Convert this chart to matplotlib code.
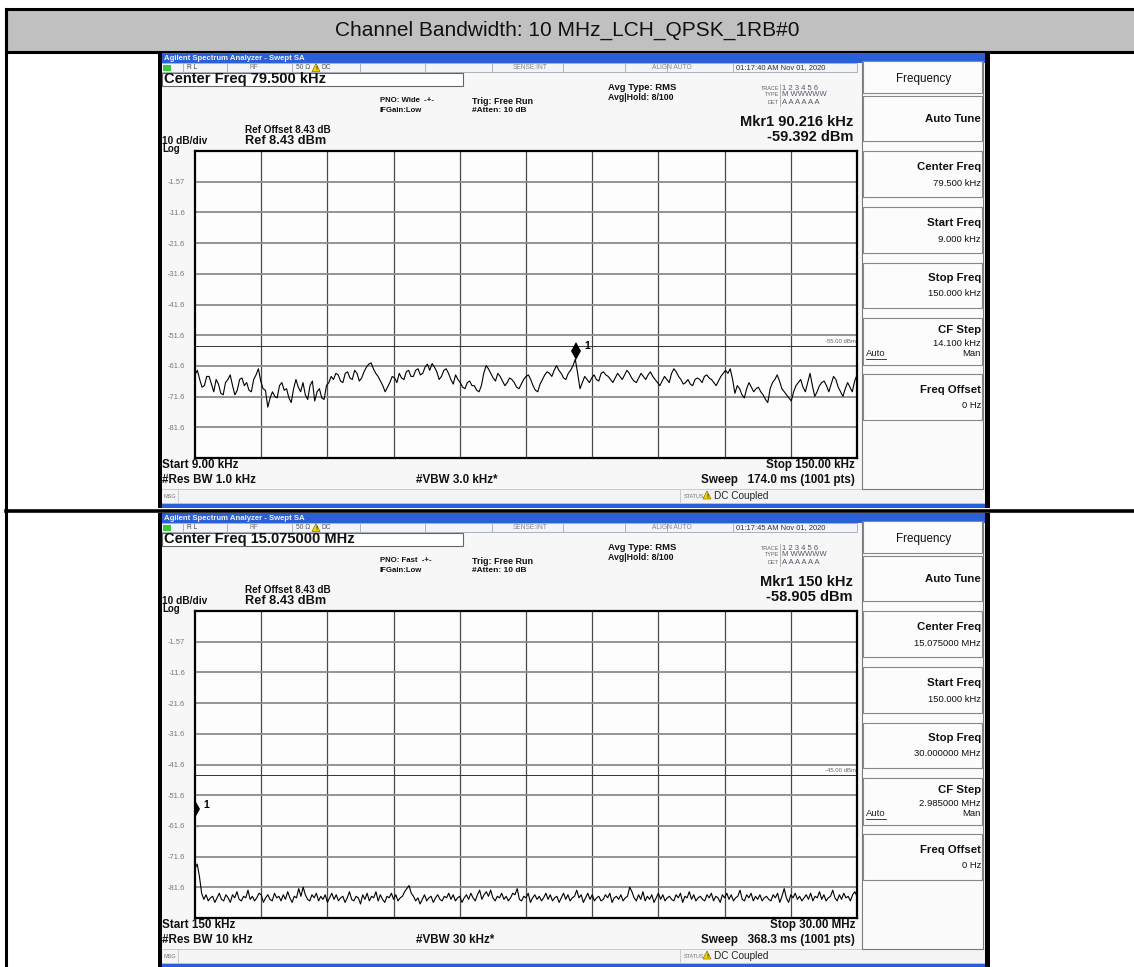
import numpy as np
import matplotlib.pyplot as plt
from matplotlib.patches import Rectangle, Polygon
from matplotlib.transforms import offset_copy

plt.rcParams['font.family'] = ['Liberation Sans', 'DejaVu Sans']

W, H = 1134, 967
header_text = 'Channel Bandwidth: 10 MHz_LCH_QPSK_1RB#0'
ref_level = 8.43

# ---- screen 1: 9 kHz - 150 kHz, 0.5 kHz per value (dBm) ----
low_start, low_stop = 9.0, 150.0
low_trace = [
    -64.5, -63, -66, -68.5, -68, -65, -65, -67.5, -70, -66, -67.5, -70.5, -71, -67, -66,
    -64.5, -68, -71, -69.5, -66, -65.5, -68, -67, -69.5, -70, -66, -64.5, -62.5, -66.5,
    -69, -69.5, -75, -72, -70, -71.5, -72, -68, -67, -69.5, -69, -72, -73.5, -69, -66,
    -68.5, -70, -67, -71, -72.5, -68, -66.5, -73, -70, -69, -72, -72.5, -68, -67, -65,
    -66, -64, -64.5, -66.5, -67, -64, -63.5, -65.5, -66, -63, -64, -66.5, -65.5, -63.5,
    -62, -61, -60.6, -62.5, -64, -65, -66.5, -68, -70, -68.5, -67, -65,
    -65.5, -67, -64, -65.5, -66, -63.5, -63, -65, -65, -63, -62.5, -64.5, -64, -62, -61,
    -63, -60.8, -62, -63.5, -66, -65, -63, -62.5, -64, -66, -67.5, -64.5, -66, -67, -68.5,
    -69, -67, -66.5, -68, -68, -69.5, -70, -68,
    -64, -61.5, -62.5, -64, -65.5, -66.5, -64, -65, -66.5, -68, -67, -65.5, -66, -67,
    -68.5, -69, -67.5, -66, -65, -64.5, -66, -68, -69.5, -70,
    -67.5, -66, -64.5, -63.5, -64, -65, -63, -61.5, -63, -64, -65.5, -66, -64, -63, -61.5,
    -59.4,
    -64, -69, -67, -65, -66, -67, -65.5, -64.5, -66, -66.5, -64, -63.5, -64.5, -65, -66,
    -67, -65.5, -64, -65, -66,
    -64.5, -63, -64, -65.5, -66.5, -67, -65.5, -64, -65, -66, -64.5, -63.5, -65, -66, -67,
    -68, -66.5, -65, -66, -67, -64, -62.5, -63.5, -65, -66, -67.5,
    -67, -66, -67.5, -68, -66, -65.5, -66, -67, -65, -64.5, -65.5, -66, -67, -68, -66.5,
    -65, -64, -63, -64, -62.5, -66, -70.5,
    -68, -69, -71, -72, -69, -67, -68.5, -70, -69, -68.5, -70, -71, -72.5, -73.5, -69, -67,
    -66, -64.5, -66.5, -69, -70, -71, -72, -73, -70, -68, -67, -66, -68.5, -70, -67, -64,
    -68, -71.5, -70, -68, -67, -66.5, -68, -70, -67.5, -65, -66, -68.5, -70, -71.5, -69,
    -67, -68.5, -70, -66.5, -64.5,
]
low_marker = [90.216, -59.392]
low_line = -55.0
low_top = ['Center Freq 79.500 kHz', 'PNO: Wide', '01:17:40 AM Nov 01, 2020',
           'Mkr1 90.216 kHz', '-59.392 dBm']
low_bottom = ['Start 9.00 kHz', '#Res BW 1.0 kHz', '#VBW 3.0 kHz*',
              'Stop 150.00 kHz', 'Sweep   174.0 ms (1001 pts)']
low_keys = ['79.500 kHz', '9.000 kHz', '150.000 kHz', '14.100 kHz']

# ---- screen 2: 150 kHz - 30 MHz (MHz axis, dBm values) ----
high_start, high_stop = 0.15, 30.0
high_trace = [
    -75.5, -74, -78, -83.5, -85.5, -84, -86, -85, -84.5, -86.5, -85, -83.5, -85.5, -86, -84, -85, -86.5, -84, -85, -83,
    -85.5, -86, -84.5, -85, -82.5, -85.5, -84.5, -86, -85, -83.5, -84, -86.5, -85, -84, -85.5, -86, -83.5, -85, -84.5, -86,
    -84, -85.5, -83, -85, -86.5, -84.5, -85, -82, -84.5, -81.5, -84, -85.5, -86, -84, -85, -83.5, -86, -84.5, -85.5, -84,
    -86.5, -85, -83.5, -85.5, -84, -86, -85, -84.5, -86.5, -85, -83, -85.5, -86, -84.5, -85, -87, -84, -85.5, -83.5, -86,
    -84.5, -85, -83, -86, -84, -85.5, -86.5, -84.5, -85, -83.5, -85.5, -84, -86, -85, -84.5, -83, -82, -81, -83.5, -84.5,
    -86, -85, -87, -85.5, -84, -86, -85, -84.5, -86.5, -85, -84, -85.5, -86, -84.5, -85, -83.5, -85.5, -84, -86, -85,
    -84.5, -86.5, -85, -84, -85.5, -83.5, -85, -86, -84, -82.5, -85.5, -84, -83, -84.5, -82.5, -85, -86, -84.5, -85, -83.5,
    -85.5, -84.5, -86, -85, -83.5, -84, -82, -85.5, -86, -84.5, -85, -83.5, -86.5, -85, -84, -85.5, -84.5, -86, -85, -83.5,
    -85.5, -84, -86, -85, -84.5, -86.5, -85, -83.5, -85.5, -84, -86, -85, -84.5, -82.5, -85, -84, -86.5, -85, -83.5, -85.5,
    -84, -86, -85, -84.5, -86, -85.5, -84, -85, -83.5, -86.5, -85, -84.5, -85.5, -84, -86, -85, -84.5, -81.5, -83, -85,
    -86, -84, -85.5, -83, -86, -84.5, -85.5, -84, -86.5, -85, -83.5, -85.5, -84, -86, -85, -84.5, -85.5, -86, -84, -85,
    -83.5, -86.5, -84.5, -85, -83, -85.5, -84, -86, -85, -84.5, -85.5, -86, -84, -85, -83.5, -86, -84.5, -85, -86.5, -84,
    -85, -83.5, -85.5, -84, -86, -85, -84.5, -82.5, -85.5, -86, -84, -85, -83.5, -86, -84.5, -85.5, -84, -86, -85, -84.5,
    -85.5, -86, -84, -85, -83.5, -86.5, -84.5, -82, -85, -86.5, -84, -85, -83.5, -85.5, -84.5, -86, -85, -84, -85.5, -83.5,
    -86, -84.5, -85, -83, -85.5, -84, -86, -85, -84.5, -82.5, -85, -86, -84, -85.5, -83.5, -85, -84.5, -86, -84, -83,
    -84.5,
]
high_marker = [0.15, -58.905]
high_line = -45.0
high_top = ['Center Freq 15.075000 MHz', 'PNO: Fast', '01:17:45 AM Nov 01, 2020',
            'Mkr1 150 kHz', '-58.905 dBm']
high_bottom = ['Start 150 kHz', '#Res BW 10 kHz', '#VBW 30 kHz*',
               'Stop 30.00 MHz', 'Sweep   368.3 ms (1001 pts)']
high_keys = ['15.075000 MHz', '150.000 kHz', '30.000000 MHz', '2.985000 MHz']

key_names = ['Center Freq', 'Start Freq', 'Stop Freq', 'CF Step']
key_title_y = [114, 170, 225, 277]
key_value_y = [131, 187, 240, 290]

BLUE = '#2a5fd8'

fig = plt.figure(figsize=(W / 100, H / 100), dpi=100)
bg = fig.add_axes([0, 0, 1, 1])
bg.set_xlim(0, W)
bg.set_ylim(H, 0)
bg.axis('off')


def rect(x0, y0, x1, y1, fc='none', ec='none', lw=0.8, z=1):
    bg.add_patch(Rectangle((x0, y0), x1 - x0, y1 - y0, fc=fc, ec=ec, lw=lw, zorder=z))


def txt(x, y, s, size, weight='normal', ha='left', color='#111111', z=5):
    bg.text(x, y, s, fontsize=size, fontweight=weight, ha=ha, va='center',
            color=color, zorder=z)


def warn(x, y):
    bg.add_patch(Polygon([[x, y + 4], [x + 8, y + 4], [x + 4, y - 4]], closed=True,
                         fc='#f2d600', ec='#8a7000', lw=0.5, zorder=6))
    txt(x + 4, y + 1, '!', 4.5, 'bold', ha='center', z=7)


# table frame + header
rect(6, 9, W + 5, 52, fc='#c0c0c0', ec='black', lw=2.2)
bg.plot([6, 6], [9, H], color='black', lw=2.2)
bg.plot([6, W], [510.5, 510.5], color='black', lw=2.6)
txt(W / 2, 30, header_text, 15, ha='center')


def screen(y0, start, stop, trace, marker, line, top, bottom, keys):
    # frame
    rect(158, y0, 990, y0 + 455, fc='#f7f7f7')
    rect(158, y0, 161.5, y0 + 455, fc='black', z=3)
    rect(985, y0, 990, y0 + 455, fc='black', z=3)
    rect(161, y0, 985, y0 + 10, fc=BLUE, z=2)
    rect(161, y0 + 450, 985, y0 + 455, fc=BLUE, z=2)
    txt(164, y0 + 5, 'Agilent Spectrum Analyzer - Swept SA', 5.6, 'bold', color='#f4f4e8')

    # status row
    rect(161, y0 + 10, 857, y0 + 19, fc='#f2f4f7', ec='#a0a8b4', lw=0.6, z=2)
    for xs in [183, 227, 292, 360, 425, 492, 563, 625, 667, 733]:
        bg.plot([xs, xs], [y0 + 11, y0 + 18], color='#a0a8b4', lw=0.6, zorder=3)
    rect(163, y0 + 11.5, 171, y0 + 17.5, fc='#3cc83c', z=3)
    txt(187, y0 + 14.5, 'R L', 4.8, color='#444')
    txt(250, y0 + 14.5, 'RF', 4.8, color='#777')
    txt(296, y0 + 14.5, '50 Ω', 4.8, color='#555')
    warn(312, y0 + 14.5)
    txt(322, y0 + 14.5, 'DC', 4.8, color='#555')
    txt(530, y0 + 14.5, 'SENSE:INT', 4.8, ha='center', color='#888')
    txt(672, y0 + 14.5, 'ALIGN AUTO', 4.8, ha='center', color='#888')
    txt(736, y0 + 14.5, top[2], 5.4, color='#333')

    # setup text block
    rect(162, y0 + 19.5, 463, y0 + 32.5, fc='white', ec='#666', lw=0.8, z=2)
    txt(164, y0 + 26.5, top[0], 10.5, 'bold')
    txt(380, y0 + 48, top[1] + '  -+-', 5.6, 'bold')
    txt(380, y0 + 57, 'IFGain:Low', 5.6, 'bold')
    txt(472, y0 + 49, 'Trig: Free Run', 6.5, 'bold')
    txt(472, y0 + 57, '#Atten: 10 dB', 6, 'bold')
    txt(608, y0 + 35, 'Avg Type: RMS', 6.8, 'bold')
    txt(608, y0 + 44, 'Avg|Hold: 8/100', 6.3, 'bold')
    for i, (lab, val) in enumerate([('TRACE', '1 2 3 4 5 6'), ('TYPE', 'M WWWWW'),
                                    ('DET', 'A A A A A A')]):
        txt(779, y0 + 35 + 7 * i, lab, 4, ha='right', color='#666')
        txt(782, y0 + 35 + 7 * i, val, 5.5, color='#556')
    bg.plot([780, 780], [y0 + 31, y0 + 53], color='#999', lw=0.5)
    txt(853, y0 + 69, top[3], 10.5, 'bold', ha='right')
    txt(853, y0 + 84, top[4], 10.5, 'bold', ha='right')
    txt(245, y0 + 77, 'Ref Offset 8.43 dB', 7.2, 'bold')
    txt(245, y0 + 87.5, 'Ref 8.43 dBm', 9.2, 'bold')
    txt(162, y0 + 87.5, '10 dB/div', 7.3, 'bold')
    txt(162, y0 + 96, 'Log', 7, 'bold')

    # graticule drawn on a real axes
    ax = fig.add_axes([195 / W, 1 - (y0 + 405) / H, 662 / W, 307 / H])
    ax.set_facecolor('#fdfdfd')
    ax.set_xlim(start, stop)
    ax.set_ylim(ref_level - 100, ref_level)
    ax.set_xticks(np.linspace(start, stop, 11)[1:-1])
    yt = [ref_level - 10 * k for k in range(1, 10)]
    ax.set_yticks(yt)
    ax.set_yticklabels(['%.2f' % v if abs(v) < 10 else '%.1f' % v for v in yt])
    ax.tick_params(axis='y', length=0, pad=7, labelsize=5.4, labelcolor='#777')
    ax.tick_params(axis='x', length=0, labelbottom=False)
    ax.grid(axis='y', color='#8c8c8c', lw=1.3)
    ax.grid(axis='x', color='#4a4a4a', lw=0.9)
    for sp in ax.spines.values():
        sp.set_color('black')
        sp.set_linewidth(1.6)
    ax.axhline(line, color='#333', lw=0.7)
    ax.text(0.998, line + 0.6, '%.2f dBm' % line, transform=ax.get_yaxis_transform(),
            fontsize=4.3, color='#666', ha='right', va='bottom')
    f = np.linspace(start, stop, len(trace))
    ax.plot(f, trace, color='black', lw=0.8)
    tr = offset_copy(ax.transData, fig=fig, x=0, y=6, units='points')
    ax.plot([marker[0]], [marker[1]], marker='d', ms=9, mew=0, color='black',
            transform=tr, clip_on=True)
    ax.text(marker[0], marker[1], '1', fontsize=7.5, fontweight='bold',
            transform=offset_copy(ax.transData, fig=fig, x=6, y=7, units='points'))

    # bottom annotations
    txt(162, y0 + 412, bottom[0], 8.4, 'bold')
    txt(162, y0 + 427, bottom[1], 8.4, 'bold')
    txt(416, y0 + 427, bottom[2], 8.4, 'bold')
    txt(855, y0 + 412, bottom[3], 8.4, 'bold', ha='right')
    txt(855, y0 + 427, bottom[4], 8.4, 'bold', ha='right')
    rect(161, y0 + 436, 985, y0 + 450, fc='#f4f4f4', ec='#c4c4c4', lw=0.6, z=2)
    txt(164, y0 + 443, 'MSG', 4, color='#777')
    bg.plot([178, 178], [y0 + 437, y0 + 449], color='#c4c4c4', lw=0.6, zorder=3)
    bg.plot([680, 680], [y0 + 437, y0 + 449], color='#c4c4c4', lw=0.6, zorder=3)
    txt(684, y0 + 443, 'STATUS', 4, color='#777')
    warn(703, y0 + 442)
    txt(714, y0 + 443, 'DC Coupled', 7.2, color='#222')

    # softkey panel
    rect(862, y0 + 8, 983, y0 + 436, fc='#fbfbfb', ec='#7a7a7a', lw=0.8, z=2)
    boxes = [(8, 40), (43, 88), (98, 144), (154, 200), (210, 255), (265, 312), (321, 367)]
    for b0, b1 in boxes:
        rect(863, y0 + b0, 982, y0 + b1, fc='#fcfcfc', ec='#888', lw=0.8, z=3)
    txt(924, y0 + 26, 'Frequency', 8.4, ha='center')
    txt(981, y0 + 66, 'Auto Tune', 8.2, 'bold', ha='right')
    for nm, val, ty, vy in zip(key_names, keys, key_title_y, key_value_y):
        txt(981, y0 + ty, nm, 8.2, 'bold', ha='right')
        txt(981, y0 + vy, val, 6.8, ha='right')
    txt(866, y0 + 301, 'Auto', 6.8, color='#222')
    bg.plot([866, 886], [y0 + 306, y0 + 306], color='#222', lw=0.6, zorder=6)
    txt(981, y0 + 301, 'Man', 6.8, ha='right')
    txt(981, y0 + 337, 'Freq Offset', 8.2, 'bold', ha='right')
    txt(981, y0 + 353, '0 Hz', 6.8, ha='right')
    return ax


screen(53, low_start, low_stop, low_trace, low_marker, low_line,
       low_top, low_bottom, low_keys)
ax2 = screen(513, high_start, high_stop, high_trace, high_marker, high_line,
             high_top, high_bottom, high_keys)
ax2.text(0.1, -62.5, '←', fontsize=6, color='#888', transform=ax2.transData)

fig.savefig('out.png', dpi=100)
